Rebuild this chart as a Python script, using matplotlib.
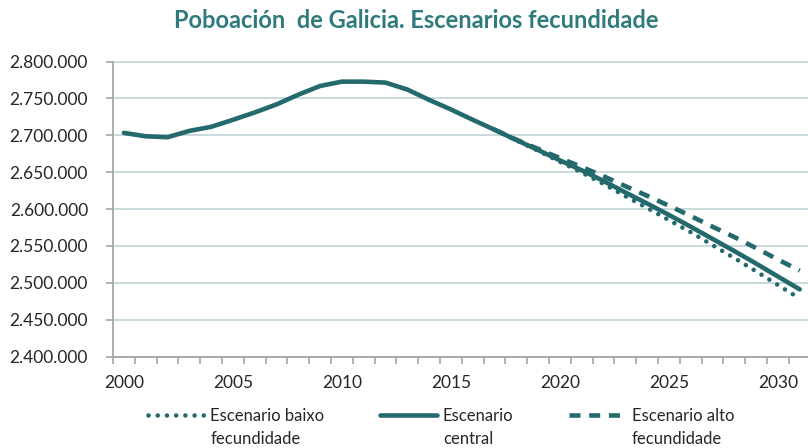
import numpy as np
import matplotlib
matplotlib.use("Agg")
import matplotlib.pyplot as plt
from matplotlib.ticker import FuncFormatter, FixedLocator
from matplotlib.legend_handler import HandlerLine2D

# data
years = list(range(2000, 2032))
central = [2703200, 2698600, 2697300, 2705900, 2711400, 2720900, 2730900,
           2741800, 2755000, 2766800, 2772700, 2772700, 2771400, 2762000,
           2748000, 2735000, 2721000, 2707500, 2693500, 2680000, 2666000,
           2652500, 2638000, 2622500, 2607500, 2592000, 2576000, 2559500,
           2543000, 2526000, 2508500, 2491000]
scen_years = list(range(2017, 2032))
baixo = [2707500, 2693000, 2679000, 2664000, 2649500, 2634000, 2617500,
         2601500, 2585000, 2568500, 2551000, 2533500, 2515500, 2497000,
         2478500]
alto = [2707500, 2694000, 2681500, 2669000, 2657000, 2644500, 2631000,
        2618000, 2604500, 2590500, 2576000, 2562000, 2547000, 2531500,
        2516500]
labels = ["Escenario baixo\nfecundidade", "Escenario\ncentral",
          "Escenario alto\nfecundidade"]
title = "Poboación  de Galicia. Escenarios fecundidade"

teal = "#246A6D"
plt.rcParams["font.family"] = ["Lato", "DejaVu Sans"]

fig = plt.figure(figsize=(8.08, 4.48), dpi=100)
ax = fig.add_axes([113 / 808, 1 - 356.5 / 448, 697.6 / 808, 295 / 448])

lw = 3.3
x_c = np.arange(len(years))
x_s = np.array(scen_years) - years[0]
l1, = ax.plot(x_s, baixo, color=teal, lw=lw, linestyle=(0, (0.01, 2.0)),
              dash_capstyle="round", label=labels[0], zorder=3)
l2, = ax.plot(x_c, central, color=teal, lw=lw, solid_capstyle="round",
              label=labels[1], zorder=2)
l3, = ax.plot(x_s, alto, color=teal, lw=lw, linestyle=(0, (2.4, 1.9)),
              dash_capstyle="butt", label=labels[2], zorder=3)

ax.set_xlim(-0.5, len(years) - 0.5)
ax.set_ylim(2400000, 2800000)
ax.set_yticks(np.arange(2400000, 2800001, 50000))
ax.yaxis.set_major_formatter(FuncFormatter(lambda v, p: f"{int(v):,}".replace(",", ".")))
ax.xaxis.set_major_locator(FixedLocator(np.arange(-0.5, len(years), 1.0)))
ax.xaxis.set_major_formatter(FuncFormatter(lambda v, p: ""))
ax.xaxis.set_minor_locator(FixedLocator(np.arange(0, len(years), 5)))
ax.xaxis.set_minor_formatter(FuncFormatter(lambda v, p: str(years[int(round(v))])))

ax.grid(axis="y", color="#C3D7D8", lw=1.3)
ax.set_axisbelow(True)
for s in ["top", "right"]:
    ax.spines[s].set_visible(False)
for s in ["left", "bottom"]:
    ax.spines[s].set_color("#A6A6A6")
    ax.spines[s].set_linewidth(1.3)
ax.tick_params(axis="y", length=5, width=1.2, color="#A6A6A6", labelsize=12.5,
               labelcolor="#262626", pad=13)
ax.tick_params(axis="x", which="major", length=5, width=1.2, color="#A6A6A6")
ax.tick_params(axis="x", which="minor", length=0, labelsize=12.5,
               labelcolor="#262626", pad=13)

fig.text(416 / 808, 1 - 21 / 448, title, ha="center", va="center",
         fontsize=17, fontweight="bold", color="#2E7A7D")


class TopHandler(HandlerLine2D):
    # put the legend line next to the first text row
    def create_artists(self, legend, orig_handle, xdescent, ydescent,
                       width, height, fontsize, trans):
        arts = super().create_artists(legend, orig_handle, xdescent, ydescent,
                                      width, height, fontsize, trans)
        for a in arts:
            a.set_ydata(np.asarray(a.get_ydata()) + fontsize * 0.8)
        return arts


hm = {l1: TopHandler(), l2: TopHandler(), l3: TopHandler()}
leg = fig.legend(handles=[l1, l2, l3], loc="upper left",
                 bbox_to_anchor=(148 / 808, 1 - 408 / 448), ncol=3,
                 frameon=False, fontsize=12, handlelength=3.4,
                 handletextpad=0.35, columnspacing=3.35, borderpad=0,
                 borderaxespad=0, handler_map=hm)
for t in leg.get_texts():
    t.set_linespacing(1.5)
    t.set_color("#262626")

fig.savefig("out.png", dpi=100)
